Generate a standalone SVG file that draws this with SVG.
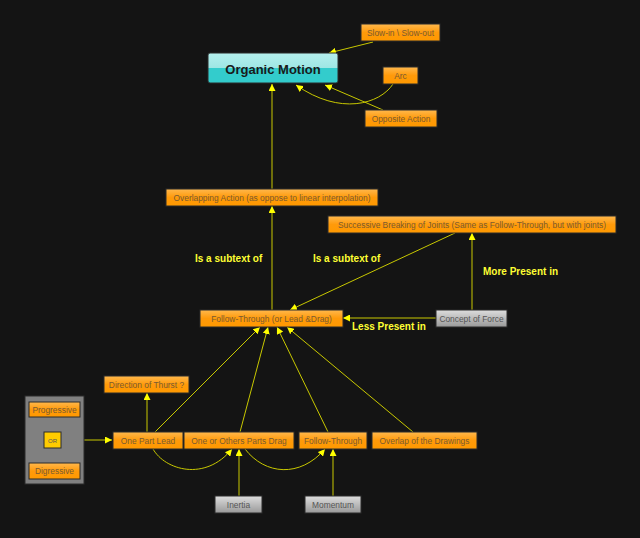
<svg xmlns="http://www.w3.org/2000/svg" width="640" height="538" viewBox="0 0 640 538">
<defs>
<linearGradient id="og" x1="0" y1="0" x2="0" y2="1"><stop offset="0" stop-color="#ffb84d"/><stop offset="0.5" stop-color="#ff9a0a"/><stop offset="1" stop-color="#ff9900"/></linearGradient>
<linearGradient id="gg" x1="0" y1="0" x2="0" y2="1"><stop offset="0" stop-color="#dddddd"/><stop offset="1" stop-color="#999999"/></linearGradient>
<linearGradient id="tg" x1="0" y1="0" x2="0" y2="1"><stop offset="0" stop-color="#b5f0ee"/><stop offset="0.5" stop-color="#9ee6e4"/><stop offset="0.5" stop-color="#33cccc"/><stop offset="1" stop-color="#33cccc"/></linearGradient>
<marker id="ah" markerWidth="7" markerHeight="7" refX="7" refY="3.5" orient="auto" markerUnits="userSpaceOnUse"><path d="M0,0 L7,3.5 L0,7 z" fill="#ffff00"/></marker>
</defs>
<style>
.n{fill:url(#og);stroke:#2a2a2a;stroke-width:1}
.g{fill:url(#gg);stroke:#2a2a2a;stroke-width:1}
.t{font-family:"Liberation Sans",Arial,sans-serif;font-size:8.4px;fill:#7a5a30;text-anchor:middle}
.tg{font-family:"Liberation Sans",Arial,sans-serif;font-size:8.4px;fill:#555;text-anchor:middle}
.c{fill:none;stroke:#c8c800;stroke-width:1;marker-end:url(#ah)}
.l{font-family:"Liberation Sans",Arial,sans-serif;font-size:10px;font-weight:bold;fill:#ffff33}
</style>
<rect width="640" height="538" fill="#141414"/>
<g id="connectors">
<path class="c" d="M373,42 L329,53"/>
<path class="c" d="M393,84 C380,104 340,116 296,85"/>
<path class="c" d="M383,110 L325,85"/>
<path class="c" d="M272,189 L272,84"/>
<path class="c" d="M272,310 L272,206"/>
<path class="c" d="M455,233 L290,310"/>
<path class="c" d="M472,310 L472,233"/>
<path class="c" d="M436,318 L343,318"/>
<path class="c" d="M84,440 L112,440"/>
<path class="c" d="M147,432 L147,393"/>
<path class="c" d="M155,432 L260,327"/>
<path class="c" d="M240,432 L268,327"/>
<path class="c" d="M328,432 L277,327"/>
<path class="c" d="M413,432 L287,327"/>
<path class="c" d="M239,496 L239,449"/>
<path class="c" d="M333,496 L333,449"/>
<path class="c" d="M153,449 C165,470 205,482 232,449"/>
<path class="c" d="M245,449 C265,475 300,478 325,449"/>
</g>
<g id="organic-motion"><rect x="208" y="53" width="130" height="30" rx="2" fill="url(#tg)" stroke="#2a2a2a"/><text x="273" y="74" font-family="Liberation Sans,Arial,sans-serif" font-size="13" font-weight="bold" fill="#1a1a1a" text-anchor="middle">Organic Motion</text></g>
<g id="slow-in"><rect class="n" x="361" y="24" width="79" height="17"/><text class="t" x="400.5" y="35.5">Slow-in \ Slow-out</text></g>
<g id="arc"><rect class="n" x="383" y="67" width="35" height="17"/><text class="t" x="400.5" y="78.5">Arc</text></g>
<g id="opposite-action"><rect class="n" x="365" y="110" width="72" height="17"/><text class="t" x="401" y="121.5">Opposite Action</text></g>
<g id="overlapping-action"><rect class="n" x="166" y="189" width="212" height="17"/><text class="t" x="272" y="200.5">Overlapping Action (as oppose to linear interpolation)</text></g>
<g id="successive-breaking"><rect class="n" x="328" y="216" width="288" height="17"/><text class="t" x="472" y="227.5">Successive Breaking of Joints (Same as Follow-Through, but with joints)</text></g>
<g id="follow-through-main"><rect class="n" x="200" y="310" width="143" height="17"/><text class="t" x="271.5" y="321.5">Follow-Through (or Lead &amp;Drag)</text></g>
<g id="concept-of-force"><rect class="g" x="436" y="310" width="71" height="17"/><text class="tg" x="471.5" y="321.5">Concept of Force</text></g>
<g id="labels">
<text class="l" x="195" y="262">Is a subtext of</text>
<text class="l" x="313" y="262">Is a subtext of</text>
<text class="l" x="483" y="275">More Present in</text>
<text class="l" x="352" y="330">Less Present in</text>
</g>
<g id="group"><rect x="25" y="396" width="59" height="88" fill="#808080" stroke="#2a2a2a"/></g>
<g id="progressive"><rect class="n" x="29" y="402" width="51" height="15"/><text class="t" x="54.5" y="412.5">Progressive</text></g>
<g id="or"><rect x="44" y="432" width="17" height="16" fill="#ffcc00" stroke="#2a2a2a"/><text x="52.5" y="443" font-family="Liberation Sans,Arial,sans-serif" font-size="6" fill="#555" text-anchor="middle">OR</text></g>
<g id="digressive"><rect class="n" x="29" y="463" width="51" height="16"/><text class="t" x="54.5" y="474">Digressive</text></g>
<g id="direction"><rect class="n" x="104" y="376" width="85" height="17"/><text class="t" x="146.5" y="387.5">Direction of Thurst ?</text></g>
<g id="one-part-lead"><rect class="n" x="113" y="432" width="70" height="17"/><text class="t" x="148" y="443.5">One Part Lead</text></g>
<g id="others-drag"><rect class="n" x="184" y="432" width="110" height="17"/><text class="t" x="239" y="443.5">One or Others Parts Drag</text></g>
<g id="follow-through"><rect class="n" x="299" y="432" width="68" height="17"/><text class="t" x="333" y="443.5">Follow-Through</text></g>
<g id="overlap-drawings"><rect class="n" x="372" y="432" width="105" height="17"/><text class="t" x="424.5" y="443.5">Overlap of the Drawings</text></g>
<g id="inertia"><rect class="g" x="215" y="496" width="47" height="17"/><text class="tg" x="238.5" y="507.5">Inertia</text></g>
<g id="momentum"><rect class="g" x="305" y="496" width="56" height="17"/><text class="tg" x="333" y="507.5">Momentum</text></g>
</svg>
